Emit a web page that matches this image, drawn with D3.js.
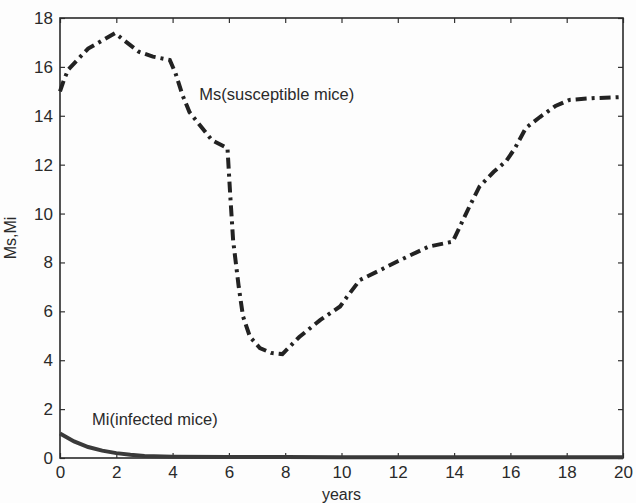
<!DOCTYPE html>
<html>
<head>
<meta charset="utf-8">
<script src="https://cdn.jsdelivr.net/npm/d3@7"></script>
<style>
    body { margin: 0; background: #fdfdfd; }
    text { font-family: "Liberation Sans", Arial, sans-serif; fill: #2a2a2a; }
</style>
</head>
<body>
<div id="chart"></div>
<script>
// Ms (susceptible mice)
let msYears = [0, 0.15, 0.3, 1.0, 1.6, 1.95, 2.8, 3.3, 3.9, 4.1, 4.35, 4.6, 5.05, 5.4, 5.95,
    6.05, 6.15, 6.35, 6.5, 6.75, 7.1, 7.5, 7.9, 8.5, 9.25, 9.95, 10.2, 10.65, 11.4, 12.0,
    13.1, 13.95, 14.2, 14.55, 14.9, 15.4, 15.85, 16.15, 16.55, 17.05, 17.6, 18.1, 18.9, 20.0];
let msValues = [15.0, 15.5, 15.9, 16.75, 17.15, 17.38, 16.62, 16.42, 16.28, 15.75, 14.85, 14.15, 13.5, 13.0, 12.67,
    10.7, 8.9, 7.0, 5.8, 4.95, 4.5, 4.3, 4.25, 4.95, 5.65, 6.2, 6.6, 7.28, 7.7, 8.05,
    8.65, 8.85, 9.45, 10.3, 11.1, 11.7, 12.15, 12.65, 13.5, 13.95, 14.4, 14.65, 14.72, 14.77];

// Mi (infected mice)
let miYears = [0, 0.5, 1.0, 1.5, 2.0, 2.5, 3.0, 4, 6, 8, 10, 12, 14, 16, 18, 20];
let miValues = [1.0, 0.68, 0.45, 0.3, 0.2, 0.13, 0.08, 0.05, 0.04, 0.04, 0.03, 0.03, 0.03, 0.03, 0.03, 0.03];

let xTicks = [0, 2, 4, 6, 8, 10, 12, 14, 16, 18, 20];
let yTicks = [0, 2, 4, 6, 8, 10, 12, 14, 16, 18];

let margin = {top: 18, right: 13, bottom: 45, left: 60};
let width = 636 - margin.left - margin.right;
let height = 503 - margin.top - margin.bottom;

let svg = d3.select("#chart").append("svg")
    .attr("width", 636)
    .attr("height", 503)
    .append("g")
    .attr("transform", "translate(" + margin.left + "," + margin.top + ")");

let x = d3.scaleLinear().domain([0, 20]).range([0, width]);
let y = d3.scaleLinear().domain([0, 18]).range([height, 0]);

// axes with inward ticks on all four sides
let axisStyle = g => {
    g.select(".domain").remove();
    g.selectAll("line").attr("stroke", "#333").attr("stroke-width", 1.2);
    g.selectAll("text").style("font-size", "17px").attr("fill", "#2a2a2a");
};

svg.append("g")
    .attr("transform", "translate(0," + height + ")")
    .call(d3.axisBottom(x).tickValues(xTicks).tickSize(-5).tickPadding(8))
    .call(axisStyle);

svg.append("g")
    .call(d3.axisLeft(y).tickValues(yTicks).tickSize(-5).tickPadding(7))
    .call(axisStyle);

svg.append("g")
    .call(d3.axisTop(x).tickValues(xTicks).tickSize(-5).tickFormat(""))
    .call(axisStyle);

svg.append("g")
    .attr("transform", "translate(" + width + ",0)")
    .call(d3.axisRight(y).tickValues(yTicks).tickSize(-5).tickFormat(""))
    .call(axisStyle);

// frame
svg.append("rect")
    .attr("width", width)
    .attr("height", height)
    .attr("fill", "none")
    .attr("stroke", "#2a2a2a")
    .attr("stroke-width", 1.6);

let line = d3.line()
    .x(d => x(d[0]))
    .y(d => y(d[1]));

// Mi line
svg.append("path")
    .datum(miYears.map((t, i) => [t, miValues[i]]))
    .attr("d", line)
    .attr("fill", "none")
    .attr("stroke", "#3a3a3a")
    .attr("stroke-width", 4);

// Ms line, dash-dot
svg.append("path")
    .datum(msYears.map((t, i) => [t, msValues[i]]))
    .attr("d", line)
    .attr("fill", "none")
    .attr("stroke", "#222")
    .attr("stroke-width", 4)
    .attr("stroke-dasharray", "11,5,3,5");

// labels
svg.append("text")
    .attr("x", x(4.95))
    .attr("y", y(14.65))
    .style("font-size", "16.5px")
    .text("Ms(susceptible mice)");

svg.append("text")
    .attr("x", x(1.14))
    .attr("y", y(1.35))
    .style("font-size", "16.5px")
    .text("Mi(infected mice)");

svg.append("text")
    .attr("x", width / 2)
    .attr("y", height + 42)
    .attr("text-anchor", "middle")
    .style("font-size", "16px")
    .text("years");

svg.append("text")
    .attr("transform", "translate(" + (-44) + "," + (height / 2) + ") rotate(-90)")
    .attr("text-anchor", "middle")
    .style("font-size", "16px")
    .text("Ms,Mi");
</script>
</body>
</html>
